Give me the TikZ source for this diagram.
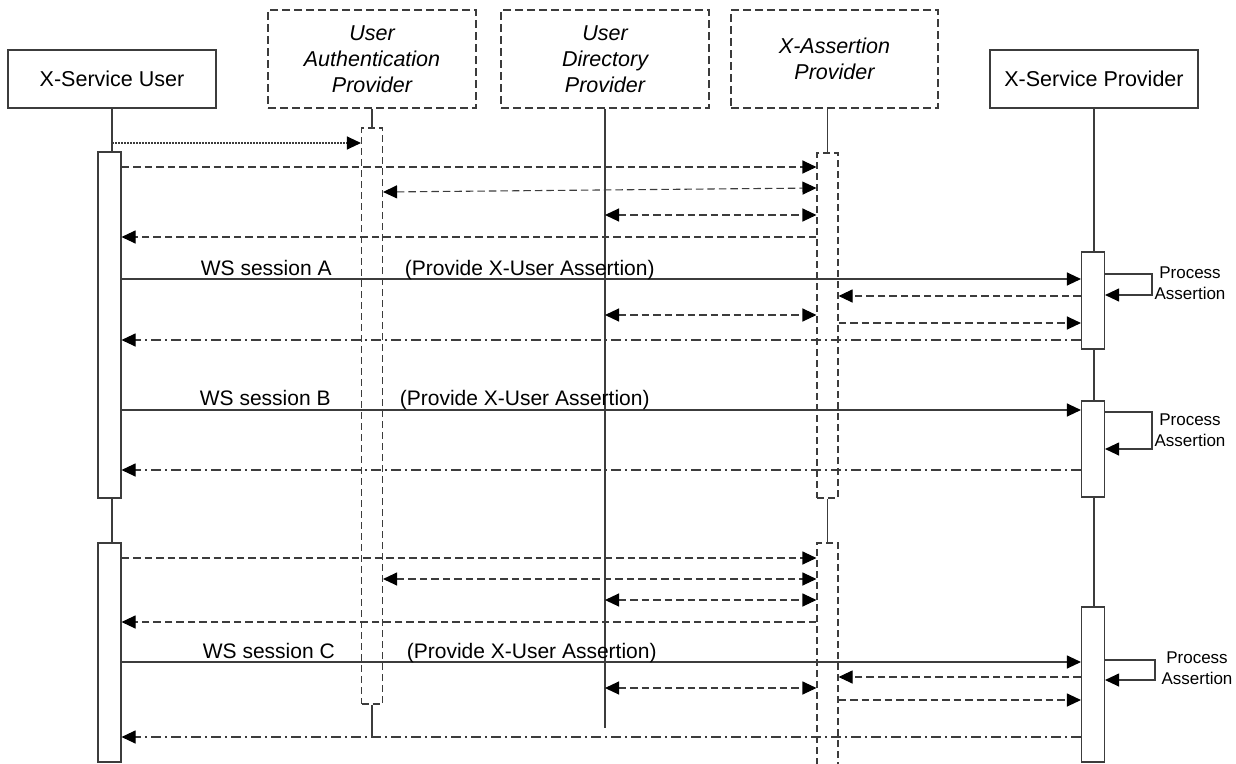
\documentclass[tikz,border=0pt]{standalone}
\usepackage{fontspec}
\setmainfont{Liberation Sans}
\usetikzlibrary{arrows.meta}
\definecolor{linegray}{HTML}{3C3C3C}

\begin{document}
\begin{tikzpicture}[x=1pt,y=-1pt,line width=1.1pt,color=linegray,>={Triangle[length=14pt,width=13pt,color=black]},
        every node/.style={text=black},
        actor/.style={draw,minimum width=208pt,minimum height=58pt,font=\fontsize{21.5}{26}\selectfont},
        role/.style={draw,dash pattern=on 8pt off 4pt,minimum width=208pt,minimum height=98pt,align=center,font=\fontsize{21.5}{26}\selectfont\itshape},
        bar/.style={draw,fill=white,minimum width=23pt,inner sep=0pt},
        dbar/.style={draw,dash pattern=on 7pt off 4pt,minimum width=21pt,inner sep=0pt},
        call/.style={->},
        ask/.style={->,dash pattern=on 1.5pt off 1.5pt},
        reply/.style={->,dash pattern=on 7.5pt off 4pt},
        both/.style={<->,dash pattern=on 7.5pt off 4pt},
        back/.style={->,dash pattern=on 10pt off 4pt on 2pt off 4pt},
        lbl/.style={anchor=base west,font=\fontsize{21}{25}\selectfont},
        note/.style={align=center,font=\fontsize{17}{21}\selectfont}]
        \useasboundingbox (0,0) rectangle (1236,763);

        \node[actor] (usr)  at (112,79)    {X-Service User};
        \node[role]  (auth) at (372,59)    {User\\Authentication\\Provider};
        \node[role]  (dir)  at (605,59)    {User\\Directory\\Provider};
        \node[role,minimum width=207pt] (asrt) at (834.5,59) {X-Assertion\\Provider};
        \node[actor] (prov) at (1094,79)   {X-Service Provider};

        \node[bar,minimum height=346pt]  (u1) at (109.5,325)  {};
        \node[bar,minimum height=219pt]  (u2) at (109.5,652.5) {};
        \node[dbar,minimum height=576pt] (a1) at (372,416)    {};
        \node[dbar,minimum height=345pt] (x1) at (827.5,325.5) {};
        \node[dbar,minimum height=227pt] (x2) at (827.5,656.5) {};
        \node[bar,minimum height=97pt]   (p1) at (1093,300.5) {};
        \node[bar,minimum height=96pt]   (p2) at (1093,449)   {};
        \node[bar,minimum height=155pt]  (p3) at (1093,684.5) {};
        \coordinate (aEnd) at (372,737);
        \coordinate (dEnd) at (605,728);

        \draw (usr.south) -- (usr.south |- u1.north);
        \draw (usr.south |- u1.south) -- (usr.south |- u2.north);
        \draw (auth.south) -- (a1.north);
        \draw (a1.south) -- (aEnd);
        \draw (dir.south) -- (dEnd);
        \draw (x1.north |- asrt.south) -- (x1.north);
        \draw (x1.south) -- (x2.north);
        \draw (prov.south) -- (prov.south |- p1.north);
        \draw (prov.south |- p1.south) -- (prov.south |- p2.north);
        \draw (prov.south |- p2.south) -- (prov.south |- p3.north);

        \draw[ask]   (usr.south |- 0,143) -- (a1.west |- 0,143);
        \draw[reply] (u1.east |- 0,167) -- (x1.west |- 0,167);
        \draw[both]  (a1.east |- 0,192) -- (x1.west |- 0,188);
        \draw[both]  (dir.south |- 0,215) -- (x1.west |- 0,215);
        \draw[reply] (x1.west |- 0,237) -- (u1.east |- 0,237);

        \draw[call]  (u1.east |- 0,279) -- (p1.west |- 0,279);
        \node[lbl] (wsA) at (197,275) {WS session A};
        \node[lbl] (prA) at (401,275) {(Provide X-User Assertion)};
        \draw[call]  (p1.east |- 0,274) -| (1152,295) -- (p1.east |- 0,295);
        \node[note] (ntA) at (1190,283) {Process\\Assertion};
        \draw[reply] (p1.west |- 0,296) -- (x1.east |- 0,296);
        \draw[both]  (dir.south |- 0,315) -- (x1.west |- 0,315);
        \draw[reply] (x1.east |- 0,323) -- (p1.west |- 0,323);
        \draw[back]  (p1.west |- 0,340) -- (u1.east |- 0,340);

        \draw[call]  (u1.east |- 0,410) -- (p2.west |- 0,410);
        \node[lbl] (wsB) at (196,405) {WS session B};
        \node[lbl] (prB) at (396,405) {(Provide X-User Assertion)};
        \draw[call]  (p2.east |- 0,412) -| (1152,449) -- (p2.east |- 0,449);
        \node[note] (ntB) at (1190,430) {Process\\Assertion};
        \draw[back]  (p2.west |- 0,470) -- (u1.east |- 0,470);

        \draw[reply] (u2.east |- 0,558) -- (x2.west |- 0,558);
        \draw[both]  (a1.east |- 0,579) -- (x2.west |- 0,579);
        \draw[both]  (dir.south |- 0,600) -- (x2.west |- 0,600);
        \draw[reply] (x2.west |- 0,622) -- (u2.east |- 0,622);
        \draw[call]  (u2.east |- 0,662) -- (p3.west |- 0,662);
        \node[lbl] (wsC) at (199,658) {WS session C};
        \node[lbl] (prC) at (403,658) {(Provide X-User Assertion)};
        \draw[call]  (p3.east |- 0,660) -| (1155,680) -- (p3.east |- 0,680);
        \node[note] (ntC) at (1197,668) {Process\\Assertion};
        \draw[reply] (p3.west |- 0,677) -- (x2.east |- 0,677);
        \draw[both]  (dir.south |- 0,688) -- (x2.west |- 0,688);
        \draw[reply] (x2.east |- 0,700) -- (p3.west |- 0,700);
        \draw[back]  (p3.west |- 0,737) -- (u2.east |- 0,737);
\end{tikzpicture}
\end{document}
